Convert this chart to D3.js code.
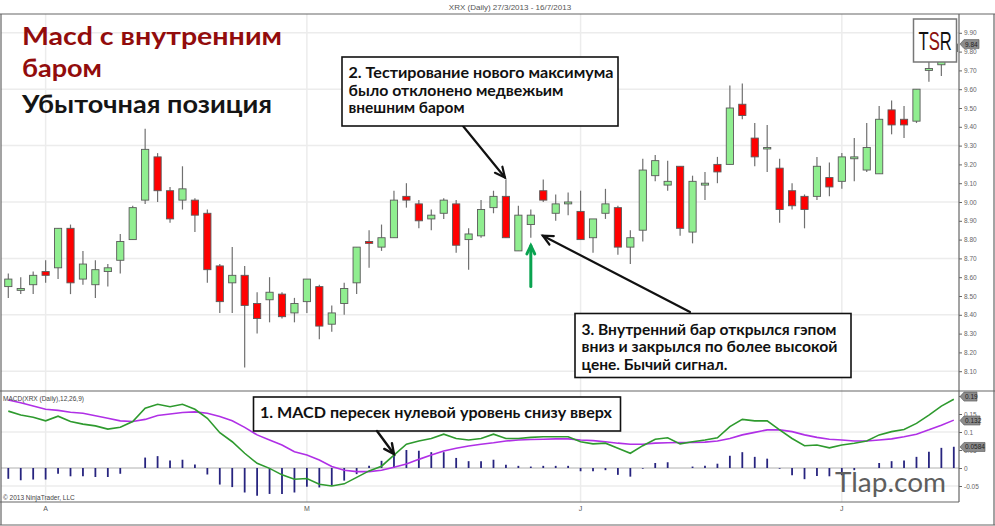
<!DOCTYPE html>
<html><head><meta charset="utf-8">
<script src="https://cdn.jsdelivr.net/npm/d3@7"></script>
<style>body{margin:0;background:#fff}svg{display:block}</style>
</head><body><svg id="c" width="995" height="526"></svg>
<script>
// ---- data ----
const opens  = [8.55,8.53,8.56,8.63,8.65,8.86,8.59,8.56,8.63,8.69,8.80,9.01,9.24,9.06,9.01,9.01,8.94,8.66,8.57,8.61,8.46,8.48,8.51,8.41,8.47,8.55,8.35,8.46,8.57,8.79,8.76,8.81,9.03,8.99,8.91,8.94,8.99,8.80,8.82,8.97,9.03,8.74,8.88,9.06,8.94,8.99,8.95,8.81,8.94,8.97,8.76,8.85,9.14,9.09,9.19,8.84,9.09,9.20,9.20,9.52,9.34,9.29,9.18,9.06,9.03,9.03,9.13,9.11,9.23,9.17,9.15,9.49,9.44,9.43,9.70,9.73,9.80];
const highs  = [8.62,8.60,8.63,8.69,8.86,8.88,8.74,8.69,8.67,8.83,8.98,9.39,9.26,9.08,9.19,9.02,8.96,8.67,8.76,8.66,8.52,8.60,8.52,8.49,8.59,8.56,8.45,8.57,8.76,8.85,8.88,9.06,9.10,9.01,8.96,9.02,9.01,8.86,9.01,9.06,9.12,8.98,8.96,9.12,9.04,9.05,9.06,8.91,9.07,8.98,8.85,9.23,9.25,9.22,9.19,9.14,9.16,9.24,9.62,9.63,9.42,9.41,9.23,9.10,9.04,9.24,9.21,9.26,9.34,9.42,9.51,9.54,9.51,9.60,9.77,9.82,9.88];
const lows   = [8.49,8.51,8.51,8.57,8.59,8.51,8.56,8.49,8.55,8.62,8.80,8.99,9.00,8.89,8.96,8.84,8.57,8.41,8.41,8.12,8.30,8.36,8.38,8.36,8.41,8.27,8.31,8.40,8.51,8.65,8.74,8.81,8.97,8.86,8.85,8.91,8.73,8.64,8.81,8.94,8.81,8.74,8.81,9.00,8.90,8.93,8.80,8.73,8.91,8.72,8.67,8.79,9.11,9.06,8.82,8.78,9.01,9.10,9.20,9.44,9.19,9.16,8.89,8.96,8.86,9.01,9.03,9.07,9.11,9.16,9.15,9.36,9.34,9.42,9.64,9.67,9.79];
const closes = [8.59,8.54,8.61,8.61,8.86,8.57,8.67,8.64,8.65,8.79,8.97,9.28,9.06,8.91,9.07,8.93,8.64,8.47,8.61,8.45,8.38,8.52,8.39,8.46,8.59,8.34,8.41,8.54,8.76,8.78,8.81,9.01,9.01,8.90,8.93,9.01,8.77,8.83,8.96,9.03,8.81,8.93,8.93,9.01,8.99,9.00,8.80,8.91,8.99,8.76,8.81,9.17,9.22,9.11,8.86,9.11,9.10,9.16,9.50,9.46,9.24,9.29,8.96,8.98,8.96,9.19,9.08,9.24,9.24,9.29,9.44,9.41,9.41,9.60,9.71,9.80,9.84];

const macdLine   = [0.158,0.147,0.141,0.131,0.144,0.129,0.122,0.117,0.108,0.113,0.129,0.166,0.177,0.170,0.177,0.163,0.138,0.098,0.073,0.041,0.013,-0.001,-0.019,-0.031,-0.029,-0.045,-0.050,-0.044,-0.026,-0.008,0.005,0.036,0.066,0.075,0.082,0.094,0.082,0.078,0.082,0.094,0.082,0.082,0.085,0.087,0.087,0.087,0.073,0.067,0.069,0.055,0.041,0.062,0.080,0.084,0.067,0.073,0.078,0.084,0.115,0.135,0.131,0.131,0.106,0.082,0.062,0.064,0.056,0.064,0.069,0.075,0.092,0.101,0.107,0.124,0.147,0.172,0.191];
const signalLine = [0.189,0.181,0.172,0.163,0.160,0.155,0.152,0.145,0.138,0.131,0.129,0.135,0.146,0.150,0.154,0.156,0.152,0.143,0.131,0.113,0.092,0.078,0.064,0.045,0.036,0.022,0.004,-0.006,-0.010,-0.010,-0.006,0.002,0.011,0.024,0.036,0.047,0.055,0.061,0.066,0.070,0.075,0.078,0.079,0.080,0.081,0.081,0.078,0.076,0.073,0.069,0.066,0.066,0.069,0.070,0.071,0.071,0.072,0.075,0.082,0.092,0.099,0.106,0.106,0.101,0.092,0.085,0.080,0.078,0.075,0.075,0.078,0.081,0.087,0.094,0.106,0.119,0.133];
const histogram  = [-0.030,-0.034,-0.032,-0.032,-0.016,-0.023,-0.023,-0.025,-0.025,-0.016,0.000,0.029,0.033,0.021,0.023,0.010,-0.018,-0.046,-0.053,-0.068,-0.077,-0.072,-0.072,-0.068,-0.052,-0.054,-0.049,-0.035,-0.017,0.006,0.020,0.041,0.050,0.048,0.044,0.044,0.028,0.019,0.019,0.023,0.009,0.006,0.004,0.006,0.006,0.006,-0.009,-0.009,-0.006,-0.019,-0.024,-0.002,0.014,0.016,0.000,0.004,0.006,0.012,0.034,0.044,0.031,0.026,-0.002,-0.020,-0.031,-0.022,-0.023,-0.020,-0.006,0.000,0.014,0.019,0.021,0.031,0.045,0.056,0.059];

const priceTicks = [8.1,8.2,8.3,8.4,8.5,8.6,8.7,8.8,8.9,9.0,9.1,9.2,9.3,9.4,9.5,9.6,9.7,9.8,9.9];
const priceGrid  = [8.1,8.4,8.7,9.0,9.3,9.6,9.9];
const macdTicks  = [0.2,0.15,0.1,0.05,0,-0.05];
const macdTickLabels = ["0.2","0.15","0.1","0.05","0","-0.05"];
const macdGrid   = [0.1,-0.05];
const monthTickIdx    = [3,24,46,67];
const monthTickLabels = ["A","M","J","J"];
const lastPrice = 9.84;
const lastMacd = 0.19, lastSignal = 0.132, lastHist = 0.0584;
const lastMacdLabels = ["0.19","0.132","0.0584"];

// ---- layout ----
const svg = d3.select("#c");
const W = 995, H = 526;
const plotL = 1, plotR = 959;
const x = d3.scaleLinear().domain([0, opens.length - 1]).range([8.3, 953.8]);
const y = d3.scaleLinear().domain([8.0, 10.0]).range([390, 14]);
const ym = d3.scaleLinear().domain([-0.0944, 0.2139]).range([502, 391]);
const idx = d3.range(opens.length);

// title
svg.append("text").attr("x", 510).attr("y", 10).attr("text-anchor","middle")
  .attr("font-family","Liberation Sans, Arial").attr("font-size", 8).attr("fill","#555")
  .text("XRX (Daily)   27/3/2013 - 16/7/2013");

// gridlines
const grid = svg.append("g").attr("stroke","#ececec").attr("stroke-width",1.5);
grid.selectAll(".hg").data(priceGrid).join("line")
  .attr("x1", plotL).attr("x2", plotR).attr("y1", d=>y(d)).attr("y2", d=>y(d));
grid.selectAll(".mg").data(macdGrid).join("line")
  .attr("x1", plotL).attr("x2", plotR).attr("y1", d=>ym(d)).attr("y2", d=>ym(d));
grid.selectAll(".vg").data(monthTickIdx).join("line")
  .attr("x1", d=>x(d)).attr("x2", d=>x(d)).attr("y1", 14).attr("y2", 502);
svg.append("line").attr("x1", plotL).attr("x2", plotR).attr("y1", ym(0)).attr("y2", ym(0))
  .attr("stroke","#b0b0b0").attr("stroke-width",1);

// frame
const frame = svg.append("g").attr("stroke","#666").attr("stroke-width",1.2).attr("fill","none");
frame.append("line").attr("x1",0).attr("x2",W).attr("y1",14).attr("y2",14);
frame.append("line").attr("x1",0).attr("x2",W).attr("y1",391).attr("y2",391);
frame.append("line").attr("x1",0).attr("x2",plotR).attr("y1",502).attr("y2",502);
frame.append("line").attr("x1",0).attr("x2",W).attr("y1",525).attr("y2",525);
frame.append("line").attr("x1",1).attr("x2",1).attr("y1",14).attr("y2",525);
frame.append("line").attr("x1",plotR).attr("x2",plotR).attr("y1",14).attr("y2",502);
frame.append("line").attr("x1",994).attr("x2",994).attr("y1",14).attr("y2",525);

// candles
const cg = svg.append("g");
cg.selectAll(".wick").data(idx).join("line")
  .attr("x1", i=>x(i)).attr("x2", i=>x(i))
  .attr("y1", i=>y(highs[i])).attr("y2", i=>y(lows[i]))
  .attr("stroke","#707070").attr("stroke-width",1.2);
cg.selectAll(".body").data(idx).join("rect")
  .attr("x", i=>x(i)-3.6).attr("width", 7.2)
  .attr("y", i=>y(Math.max(opens[i],closes[i])))
  .attr("height", i=>Math.max(1.5, Math.abs(y(opens[i])-y(closes[i]))))
  .attr("fill", i=>closes[i]>=opens[i] ? "#90ee90" : "#ff0000")
  .attr("stroke","#5a5a5a").attr("stroke-width",0.9);

// MACD panel
const mg = svg.append("g");
mg.selectAll(".hist").data(idx).join("line")
  .attr("x1", i=>x(i)).attr("x2", i=>x(i))
  .attr("y1", ym(0)).attr("y2", i=>ym(histogram[i]))
  .attr("stroke","#27247f").attr("stroke-width",1.8);
mg.append("path").datum(idx)
  .attr("d", d3.line().x(i=>x(i)).y(i=>ym(signalLine[i])))
  .attr("fill","none").attr("stroke","#b030e6").attr("stroke-width",1.6);
mg.append("path").datum(idx)
  .attr("d", d3.line().x(i=>x(i)).y(i=>ym(macdLine[i])))
  .attr("fill","none").attr("stroke","#2e9a2e").attr("stroke-width",1.6);

const small = "Liberation Sans, Arial, sans-serif";
svg.append("text").attr("x",3).attr("y",401).attr("font-family",small).attr("font-size",6.5).attr("fill","#444")
  .text("MACD(XRX (Daily),12,26,9)");
svg.append("text").attr("x",3).attr("y",500).attr("font-family",small).attr("font-size",6.5).attr("fill","#444")
  .text("© 2013 NinjaTrader, LLC");

// right axes
const pAxis = d3.axisRight(y).tickValues(priceTicks).tickFormat(d3.format(".2f")).tickSize(3).tickPadding(2);
const pa = svg.append("g").attr("transform",`translate(${plotR},0)`).call(pAxis);
pa.select(".domain").remove();
pa.selectAll("text").attr("font-size",6.5).attr("fill","#666").attr("font-family",small);
pa.selectAll("line").attr("stroke","#666");

const mAxis = d3.axisRight(ym).tickValues(macdTicks).tickFormat((d,i)=>macdTickLabels[i]).tickSize(3).tickPadding(2);
const ma = svg.append("g").attr("transform",`translate(${plotR},0)`).call(mAxis);
ma.select(".domain").remove();
ma.selectAll("text").attr("font-size",6.5).attr("fill","#666").attr("font-family",small);
ma.selectAll("line").attr("stroke","#666");

// bottom month labels
svg.selectAll(".ml").data(monthTickIdx).join("text")
  .attr("x", d=>x(d)).attr("y", 511).attr("text-anchor","middle")
  .attr("font-family",small).attr("font-size",7).attr("fill","#555")
  .text((d,i)=>monthTickLabels[i]);

// value tags
function tag(yv, label, w){
  const g = svg.append("g").attr("transform",`translate(${plotR+1},${yv})`);
  g.append("path").attr("d",`M0,0 L4,-4.5 L${w},-4.5 L${w},4.5 L4,4.5 Z`)
    .attr("fill","#8c8c8c").attr("stroke","#555").attr("stroke-width",0.6);
  g.append("text").attr("x",5).attr("y",2.5).attr("font-family",small).attr("font-size",6.5)
    .attr("fill","#222").text(label);
}
tag(y(lastPrice), "9.84", 19);
tag(ym(lastMacd)-3, lastMacdLabels[0], 17);
tag(ym(lastSignal), lastMacdLabels[1], 20);
tag(ym(lastHist), lastMacdLabels[2], 25);

// TSR logo
const logo = svg.append("g");
logo.append("rect").attr("x",913.5).attr("y",19).attr("width",43).attr("height",43)
  .attr("fill","#fff").attr("stroke","#777").attr("stroke-width",1.5);
const lt = logo.append("g").attr("transform","translate(918.5,50) scale(0.64,1)")
  .append("text").attr("x",0).attr("y",0).attr("font-family","Liberation Sans, Arial").attr("font-size",26);
lt.append("tspan").attr("fill","#111").text("T");
lt.append("tspan").attr("fill","#8b1010").text("S");
lt.append("tspan").attr("fill","#111").text("R");

// Title annotation
const hand = "Lato, 'DejaVu Sans', sans-serif";
function ttext(xp, yp, str, size, color, len, weight){
  svg.append("text").attr("x",xp).attr("y",yp).attr("font-family",hand).attr("font-size",size)
    .attr("font-weight",weight||"bold").attr("fill",color)
    .attr("textLength",len).attr("lengthAdjust","spacingAndGlyphs").text(str);
}
ttext(22, 45, "Macd с внутренним", 25, "#920c0c", 260);
ttext(22, 77, "баром", 25, "#920c0c", 80);
ttext(22, 113, "Убыточная позиция", 25, "#151515", 250);

// boxes
function box(x0, y0, w, h, lines, lens, size, lh){
  svg.append("rect").attr("x",x0).attr("y",y0).attr("width",w).attr("height",h)
    .attr("fill","#fff").attr("stroke","#111").attr("stroke-width",1.6);
  lines.forEach((s,k)=>{
    svg.append("text").attr("x",x0+6.5).attr("y",y0+21+k*lh).attr("font-family",hand)
      .attr("font-size",size).attr("font-weight","bold").attr("fill","#111")
      .attr("textLength",lens[k]).attr("lengthAdjust","spacingAndGlyphs").text(s);
  });
}
function arrow(x1,y1,x2,y2,color,wd,head){
  svg.append("line").attr("x1",x1).attr("y1",y1).attr("x2",x2).attr("y2",y2)
    .attr("stroke",color).attr("stroke-width",wd).attr("stroke-linecap","round");
  const a = Math.atan2(y2-y1, x2-x1), s = head, sp = 0.45;
  svg.append("path").attr("d",
    `M${x2-s*Math.cos(a-sp)},${y2-s*Math.sin(a-sp)} L${x2},${y2} L${x2-s*Math.cos(a+sp)},${y2-s*Math.sin(a+sp)}`)
    .attr("fill","none").attr("stroke",color).attr("stroke-width",wd).attr("stroke-linecap","round").attr("stroke-linejoin","miter");
}

// box 2 + arrow to bearish outside bar (index 40)
arrow(463, 126, x(40)-1, y(highs[40])-2, "#111", 2.2, 11);
box(342, 57, 276, 69, ["2. Тестирование нового максимума","было отклонено медвежьим","внешним баром"], [265,215,116], 14.5, 17.5);

// box 3 + arrow to inside bar (index 42)
arrow(690, 312, x(42)+12, y(lows[42])-2, "#111", 2.2, 11);
box(575, 313.5, 276, 64, ["3. Внутренний бар открылся гэпом","вниз и закрылся по более высокой","цене. Бычий сигнал."], [255,256,146], 14.5, 17.5);

// green up arrow under inside bar
arrow(x(42), y(8.55), x(42), y(lows[42]) + 8, "#0aa350", 3, 9);

// box 1 + arrow to MACD zero cross
box(253.5, 397, 367, 34, ["1. MACD пересек нулевой уровень снизу вверх"], [352], 15.5, 0);
arrow(377, 431, x(31), ym(macdLine[31])-1, "#111", 2.4, 11);

// watermark
svg.append("text").attr("x",835).attr("y",492).attr("font-family",hand).attr("font-size",27)
  .attr("fill","#5e5e5e").attr("textLength",111).attr("lengthAdjust","spacingAndGlyphs").text("Tlap.com");
</script></body></html>
